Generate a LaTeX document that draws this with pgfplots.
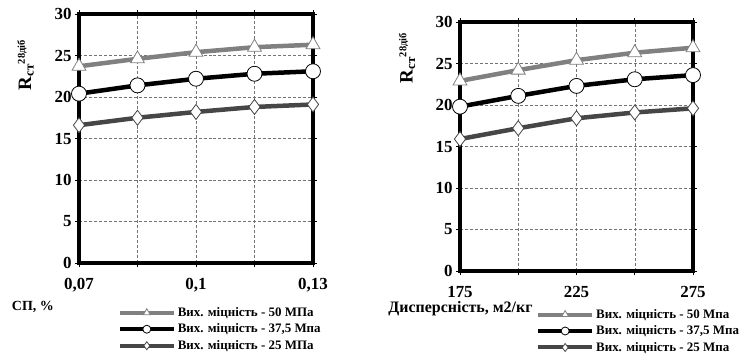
\documentclass[border=0pt]{standalone}
\usepackage{fontspec}
\setmainfont{Liberation Serif}
\usepackage{pgfplots}
\pgfplotsset{compat=1.18}
\definecolor{lg}{RGB}{128,128,128}
\definecolor{dg}{RGB}{70,70,70}
\pgfplotsset{
  common/.style={
    scale only axis, width=234bp, height=249bp,
    ymin=0, ymax=30, ytick={0,5,...,30},
    axis line style={line width=3.5bp, black},
    xmajorgrids, ymajorgrids, xminorgrids,
    grid style={densely dashed, black!55, line width=0.5bp},
    minor grid style={densely dashed, black!55, line width=0.5bp},
    tick align=outside, major tick length=4bp, minor tick length=4bp,
    tick style={black, line width=0.8bp},
    clip=false,
    /pgf/number format/assume math mode=true,
    tick label style={font=\bfseries\fontsize{17}{17}\selectfont},
    xticklabel shift=8bp,
    legend style={draw=none, fill=white, inner sep=0bp, font=\bfseries\fontsize{13}{15}\selectfont, anchor=north west, row sep=2bp},
    legend cell align=left,
    legend image code/.code={\draw[mark repeat=2, mark phase=2, mark size=4bp, line width=4bp] plot coordinates {(0bp,0bp) (27bp,0bp) (54bp,0bp)};},
    ylabel={\fontsize{19}{19}\selectfont\textbf{R}\textsubscript{\fontsize{13}{13}\selectfont\textbf{ст}}\textsuperscript{\fontsize{10.5}{10.5}\selectfont\textbf{28діб}}},
  },
  s50/.style={lg, line width=4.5bp, mark=triangle*, mark size=8bp, mark options={fill=white, draw=lg, line width=0.8bp}},
  s37/.style={black, line width=4.5bp, mark=*, mark size=7.5bp, mark options={fill=white, draw=black, line width=0.8bp}},
  s25/.style={dg, line width=4.5bp, mark=diamond*, mark size=7.5bp, mark options={fill=white, draw=dg, line width=0.8bp}},
}
\begin{document}
\begin{tikzpicture}
\useasboundingbox (0,0) rectangle (741bp,357bp);
\begin{axis}[common, at={(79bp,94bp)}, anchor=south west,
  xmin=0.07, xmax=0.13, xtick={0.07,0.1,0.13}, xticklabels={{0,07},{0,1},{0,13}},
  minor xtick={0.085,0.115},
  ylabel style={at={(axis description cs:-0.228,0.795)}, anchor=center, rotate=0},
  xlabel={\fontsize{14}{14}\selectfont\bfseries СП, \%},
  xlabel style={at={(axis description cs:-0.197,-0.177)}, anchor=center},
  legend style={at={(axis description cs:0.165,-0.17)}}]
\addplot[s50] coordinates {(0.07,23.7) (0.085,24.6) (0.1,25.4) (0.115,26.0) (0.13,26.3)};
\addplot[s37] coordinates {(0.07,20.4) (0.085,21.4) (0.1,22.2) (0.115,22.8) (0.13,23.1)};
\addplot[s25] coordinates {(0.07,16.6) (0.085,17.5) (0.1,18.2) (0.115,18.8) (0.13,19.1)};
\legend{Вих. міцність - 50 МПа, Вих. міцність - 37{,}5 Мпа, Вих. міцність - 25 МПа}
\end{axis}
\begin{axis}[common, at={(460bp,86bp)}, anchor=south west, width=233bp,
  xmin=175, xmax=275, xtick={175,225,275}, minor xtick={200,250},
  ylabel style={at={(axis description cs:-0.227,0.855)}, anchor=center, rotate=0},
  xlabel={\fontsize{16}{16}\selectfont\bfseries Дисперсність, м2/кг},
  xlabel style={at={(axis description cs:-0.322,-0.152)}, anchor=west},
  legend style={at={(axis description cs:0.326,-0.145)}}]
\addplot[s50] coordinates {(175,22.9) (200,24.2) (225,25.4) (250,26.3) (275,26.9)};
\addplot[s37] coordinates {(175,19.8) (200,21.1) (225,22.3) (250,23.1) (275,23.6)};
\addplot[s25] coordinates {(175,15.9) (200,17.2) (225,18.4) (250,19.1) (275,19.6)};
\legend{Вих. міцність - 50 Мпа, Вих. міцність - 37{,}5 Мпа, Вих. міцність - 25 Мпа}
\end{axis}
\end{tikzpicture}
\end{document}
